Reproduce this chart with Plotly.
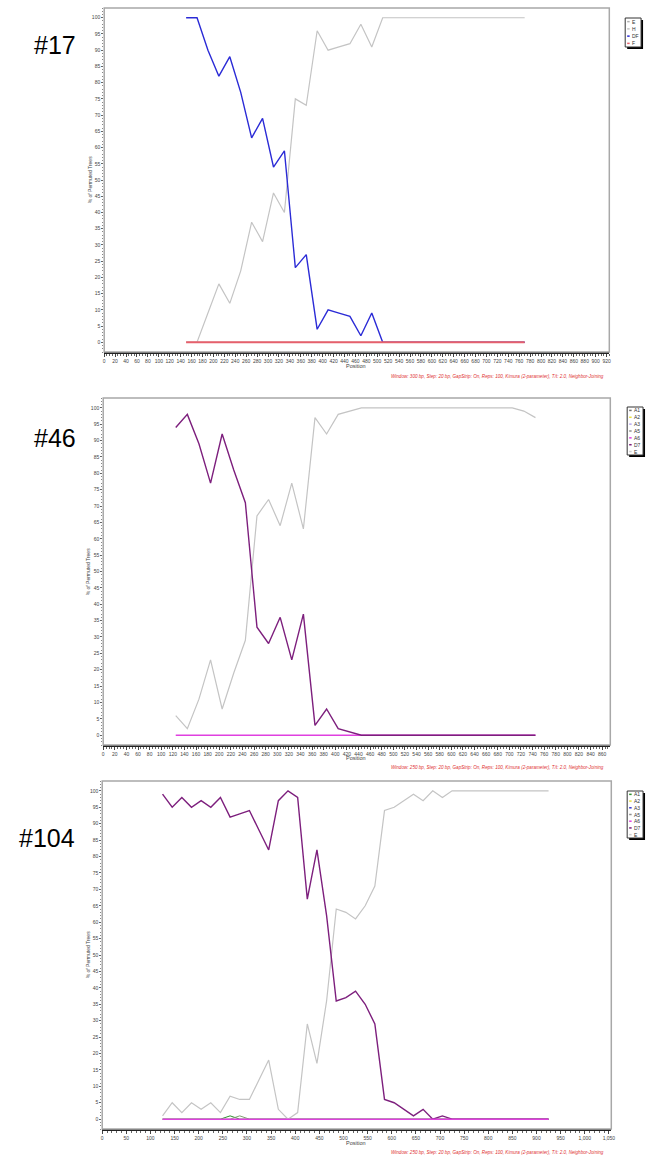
import plotly.graph_objects as go

W, H = 654, 1163

# ---------------- data ----------------
# Panel #17 (window 300 bp)
pos17 = [150, 170, 190, 210, 230, 250, 270, 290, 310, 330, 350, 370, 390, 410, 430, 450,
         470, 490, 510, 530, 550, 570, 590, 610, 630, 650, 670, 690, 710, 730, 750, 770]
e17 = [0] * 32
h17 = [0, 0, 9, 18, 12, 22, 37, 31, 46, 40, 75, 73, 96, 90, 91, 92,
       98, 91, 100, 100, 100, 100, 100, 100, 100, 100, 100, 100, 100, 100, 100, 100]
df17 = [100, 100, 90, 82, 88, 77, 63, 69, 54, 59, 23, 27, 4, 10, 9, 8,
        2, 9, 0, 0, 0, 0, 0, 0, 0, 0, 0, 0, 0, 0, 0, 0]
f17 = [0] * 32

# Panel #46 (window 250 bp)
pos46 = [125, 145, 165, 185, 205, 225, 245, 265, 285, 305, 325, 345, 365, 385, 405, 425,
         445, 465, 485, 505, 525, 545, 565, 585, 605, 625, 645, 665, 685, 705, 725, 745]
a6_46 = [0] * 32
d7_46 = [94, 98, 89, 77, 92, 81, 71, 33, 28, 36, 23, 37, 3, 8, 2, 1,
         0, 0, 0, 0, 0, 0, 0, 0, 0, 0, 0, 0, 0, 0, 0, 0]
e46 = [6, 2, 11, 23, 8, 19, 29, 67, 72, 64, 77, 63, 97, 92, 98, 99,
       100, 100, 100, 100, 100, 100, 100, 100, 100, 100, 100, 100, 100, 100, 99, 97]

# Panel #104 (window 250 bp)
pos104 = [125, 145, 165, 185, 205, 225, 245, 265, 285, 305, 325, 345, 365, 385, 405, 425,
          445, 465, 485, 505, 525, 545, 565, 585, 605, 625, 645, 665, 685, 705, 725, 745,
          765, 785, 805, 825, 845, 865, 885, 905, 925]
a1_104 = [0, 0, 0, 0, 0, 0, 0, 1, 0, 0, 0, 0, 0, 0, 0, 0, 0, 0, 0, 0, 0, 0, 0, 0, 0, 0,
          0, 0, 0, 0, 0, 0, 0, 0, 0, 0, 0, 0, 0, 0, 0]
a5_104 = [0, 0, 0, 0, 0, 0, 0, 0, 1, 0, 0, 0, 0, 0, 0, 0, 0, 0, 0, 0, 0, 0, 0, 0, 0, 0,
          0, 0, 0, 0, 0, 0, 0, 0, 0, 0, 0, 0, 0, 0, 0]
a6_104 = [0] * 41
d7_104 = [99, 95, 98, 95, 97, 95, 98, 92, 93, 94, 88, 82, 97, 100, 98, 67,
          82, 62, 36, 37, 39, 35, 29, 6, 5, 3, 1, 3, 0, 1, 0, 0,
          0, 0, 0, 0, 0, 0, 0, 0, 0]
e104 = [1, 5, 2, 5, 3, 5, 2, 7, 6, 6, 12, 18, 3, 0, 2, 29,
        17, 36, 64, 63, 61, 65, 71, 94, 95, 97, 99, 97, 100, 98, 100, 100,
        100, 100, 100, 100, 100, 100, 100, 100, 100]

labels17 = ["E", "H", "DF", "F"]
labels46 = ["A1", "A2", "A3", "A5", "A6", "D7", "E"]
labels104 = ["A1", "A2", "A3", "A5", "A6", "D7", "E"]

note17 = "Window: 300 bp, Step: 20 bp, GapStrip: On, Reps: 100, Kimura (2-parameter), T/t: 2.0, Neighbor-Joining"
note250 = "Window: 250 bp, Step: 20 bp, GapStrip: On, Reps: 100, Kimura (2-parameter), T/t: 2.0, Neighbor-Joining"

# ---------------- styles ----------------
GRAY = "#c4c4c4"
BLUE = "#2b2bd6"
RED = "#e6606c"
PURPLE = "#7d1f7d"
MAGENTA = "#e040e0"
GREEN = "#2f8f2f"

leg_colors17 = ["#b0b0b0", GRAY, BLUE, RED]
leg_colors46 = ["#707070", "#e8e040", "#b8a8f0", "#909090", MAGENTA, PURPLE, "#d0d0d0"]
leg_colors104 = [GREEN, "#e8e040", "#3838d0", "#909090", MAGENTA, PURPLE, "#d0d0d0"]

fig = go.Figure()


def px_x(p):
    return p / W


def px_y(p):
    return 1 - p / H


panels = [
    dict(s="", l=104, r=613, t=8, b=352, xr=[0, 925], dt=20, mn=5, fmt="d"),
    dict(s="2", l=103, r=614, t=398, b=745, xr=[0, 874], dt=20, mn=5, fmt="d"),
    dict(s="3", l=102, r=615, t=781, b=1129, xr=[0, 1055], dt=50, mn=10, fmt=",d"),
]

traces = [
    [(pos17, e17, "#b0b0b0", 1), (pos17, h17, GRAY, 1.2), (pos17, df17, BLUE, 1.4), (pos17, f17, RED, 2.2)],
    [(pos46, a6_46, MAGENTA, 1.5), (pos46, e46, GRAY, 1.2), (pos46, d7_46, PURPLE, 1.4)],
    [(pos104, a1_104, GREEN, 1), (pos104, a5_104, "#7f9f6f", 1),
     (pos104, e104, GRAY, 1.2), (pos104, d7_104, PURPLE, 1.4), (pos104, a6_104, MAGENTA, 1.5)],
]

layout = {}
for i, p in enumerate(panels):
    xa = "xaxis" + p["s"]
    ya = "yaxis" + p["s"]
    xref = "x" + p["s"]
    yref = "y" + p["s"]
    for xs, ys, c, w in traces[i]:
        fig.add_trace(go.Scatter(x=xs, y=ys, mode="lines", line=dict(color=c, width=w),
                                 xaxis=xref, yaxis=yref, showlegend=False, hoverinfo="skip"))
    layout[xa] = dict(domain=[px_x(p["l"]), px_x(p["r"])], range=p["xr"], anchor=yref,
                      tickmode="linear", tick0=0, dtick=p["dt"], tickformat=p["fmt"],
                      ticks="outside", ticklen=3, tickcolor="#444", tickwidth=1,
                      minor=dict(dtick=p["mn"], ticks="outside", ticklen=2, tickcolor="#666"),
                      showline=True, linecolor="#222", linewidth=2, showgrid=False, zeroline=False,
                      tickfont=dict(size=5, color="#444", family="Liberation Sans"))
    layout[ya] = dict(domain=[px_y(p["b"]), px_y(p["t"])], range=[-3, 103], anchor=xref,
                      tickmode="linear", tick0=0, dtick=5,
                      ticks="outside", ticklen=2, tickcolor="#666", tickwidth=1,
                      minor=dict(dtick=1, ticks="outside", ticklen=1, tickcolor="#888"),
                      showline=False, showgrid=False, zeroline=False,
                      tickfont=dict(size=5, color="#444", family="Liberation Sans"))
    fig.add_shape(type="rect", xref="paper", yref="paper",
                  x0=px_x(p["l"]), x1=px_x(p["r"]), y0=px_y(p["b"]), y1=px_y(p["t"]),
                  line=dict(color="#a8a8a8", width=1.5), layer="above")

fig.update_layout(**layout)

for txt, x, y in [("#17", 54, 45), ("#46", 54, 438), ("#104", 46, 838)]:
    fig.add_annotation(text=txt, x=px_x(x), y=px_y(y), xref="paper", yref="paper",
                       showarrow=False, font=dict(size=25, color="black", family="Liberation Sans"),
                       xanchor="center", yanchor="middle")

for (yt_x, yt_y, pos_y, note_y, note) in [(90, 180, 366, 376, note17),
                                          (88, 572, 758, 767, note250),
                                          (88, 955, 1143, 1152, note250)]:
    fig.add_annotation(text="% of Permuted Trees", x=px_x(yt_x), y=px_y(yt_y), xref="paper", yref="paper",
                       showarrow=False, textangle=-90, font=dict(size=5, color="#444", family="Liberation Sans"),
                       xanchor="center", yanchor="middle")
    fig.add_annotation(text="Position", x=px_x(358), y=px_y(pos_y), xref="paper", yref="paper",
                       showarrow=False, font=dict(size=5.5, color="#444", family="Liberation Sans"),
                       xanchor="center", yanchor="middle")
    fig.add_annotation(text="<i>" + note + "</i>", x=px_x(610), y=px_y(note_y), xref="paper", yref="paper",
                       showarrow=False, font=dict(size=4.6, color="#e03030", family="Liberation Sans"),
                       xanchor="right", yanchor="middle")

for labels, colors, (x0, x1, y0, y1) in [(labels17, leg_colors17, (629, 645, 18, 47)),
                                         (labels46, leg_colors46, (631, 647, 407, 455)),
                                         (labels104, leg_colors104, (631, 647, 791, 838))]:
    fig.add_shape(type="rect", xref="paper", yref="paper",
                  x0=px_x(x0 + 2), x1=px_x(x1 + 2), y0=px_y(y1 + 2), y1=px_y(y0 + 2),
                  fillcolor="black", line=dict(width=0))
    fig.add_shape(type="rect", xref="paper", yref="paper",
                  x0=px_x(x0), x1=px_x(x1), y0=px_y(y1), y1=px_y(y0),
                  fillcolor="white", line=dict(color="#333", width=1))
    n = len(labels)
    step = (y1 - y0) / n
    for k, (lab, col) in enumerate(zip(labels, colors)):
        yc = y0 + step * (k + 0.5)
        fig.add_shape(type="line", xref="paper", yref="paper",
                      x0=px_x(x0 + 2), x1=px_x(x0 + 4.5), y0=px_y(yc), y1=px_y(yc),
                      line=dict(color=col, width=1.5))
        fig.add_annotation(text=lab, x=px_x(x0 + 5), y=px_y(yc), xref="paper", yref="paper",
                           showarrow=False, font=dict(size=5, color="#333", family="Liberation Sans"),
                           xanchor="left", yanchor="middle")

fig.update_layout(width=W, height=H, margin=dict(l=0, r=0, t=0, b=0),
                  paper_bgcolor="white", plot_bgcolor="white", showlegend=False)

fig.write_html("out.html",
               config={"displayModeBar": False},
               post_script="document.body.style.margin='0';document.body.style.padding='0';"
                           "document.body.style.overflow='hidden';"
                           "document.documentElement.style.overflow='hidden';")
